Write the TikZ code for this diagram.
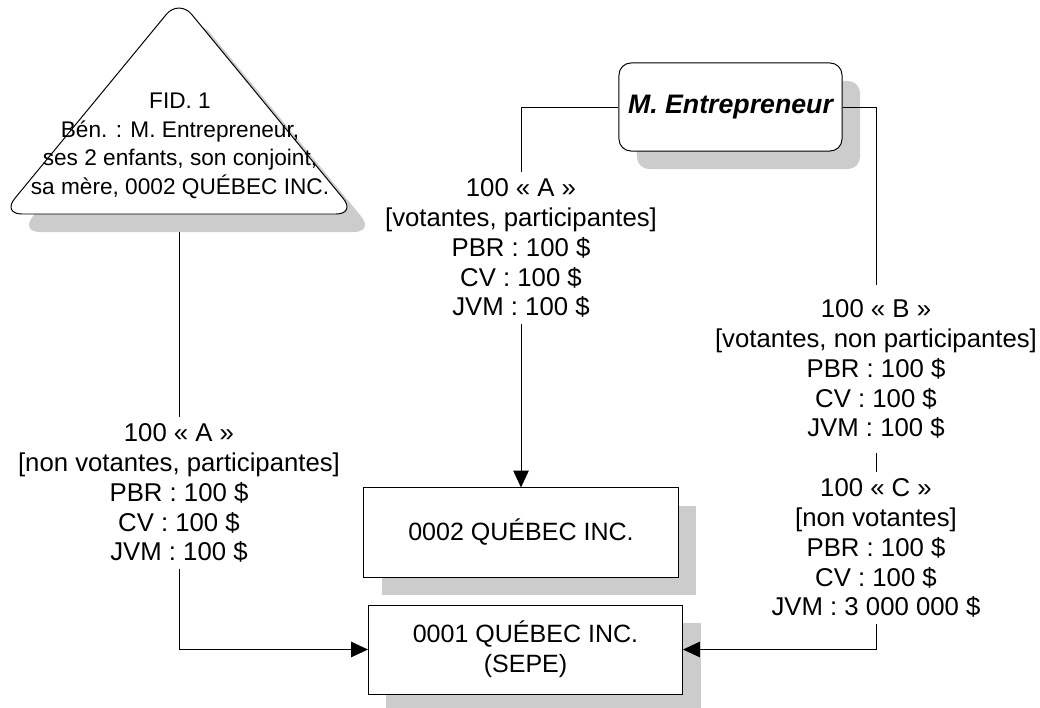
\documentclass[tikz,border=0pt]{standalone}
\usepackage{fontspec}
\setmainfont{Liberation Sans}
\usepackage{tikz}
\usetikzlibrary{arrows.meta, shadows, positioning}
\newcommand{\sharefont}{\fontsize{18.3}{21.3}\selectfont}
\newcommand{\corpfont}{\fontsize{17.8}{21.3}\selectfont}
\newcommand{\persfont}{\fontsize{19}{22}\selectfont\bfseries\itshape}
\newcommand{\trustfont}{\fontsize{16.1}{20.4}\selectfont}
\tikzstyle{shadowed} = [drop shadow={shadow xshift=0.45cm, shadow yshift=-0.45cm, opacity=1, fill=black!20}]
\tikzstyle{company} = [draw, fill=white, rectangle, shadowed, text centered, align=center, minimum width=7.85cm, minimum height=2.225cm, font=\corpfont]
\tikzstyle{person} = [draw, fill=white, rectangle, rounded corners=0.3cm, shadowed, minimum width=5.575cm, minimum height=2.2cm, font=\persfont]
\tikzstyle{trustshape} = [draw, fill=white, shadowed, rounded corners=0.5cm, line width=0.7pt]
\tikzstyle{trusttext} = [align=center, inner sep=0pt, font=\trustfont]
\tikzstyle{sharelabel} = [align=center, inner sep=4pt, font=\sharefont]
\tikzstyle{ownline} = [line width=0.7pt]
\tikzstyle{ownarrow} = [ownline, -{Triangle[length=12pt,width=11pt]}]

\begin{document}
\begin{tikzpicture}[x=0.025cm, y=-0.025cm, every node/.style={line width=0.7pt}]
		\useasboundingbox (0,0) rectangle (1040,708);
		% fiducie
		\path [trustshape] (179,-1) -- (2,214) -- (356,214) -- cycle;
		\node (fid) [trusttext] at (180,146) {FID. 1\\Bén. : M. Entrepreneur,\\ses 2 enfants, son conjoint,\\sa mère, 0002 QUÉBEC INC.};
		\coordinate (fidfoot) at (179,232);
		% personnes et societes
		\node (ment) [person] at (730.5,107) {M. Entrepreneur};
		\node (q2) [company] at (521,532.5) {0002 QUÉBEC INC.};
		\node (sepe) [company, below=0.675cm of q2, xshift=0.1125cm] {0001 QUÉBEC INC.\\(SEPE)};
		% actions
		\node (nvA) [sharelabel] at (179,493) {100 « A »\\{[}non votantes, participantes{]}\\PBR : 100 \$\\CV : 100 \$\\JVM : 100 \$};
		\node (votA) [sharelabel] at (521,248) {100 « A »\\{[}votantes, participantes{]}\\PBR : 100 \$\\CV : 100 \$\\JVM : 100 \$};
		\node (votB) [sharelabel, inner ysep=10pt] at (876,369) {100 « B »\\{[}votantes, non participantes{]}\\PBR : 100 \$\\CV : 100 \$\\JVM : 100 \$};
		\node (nvC) [sharelabel] at (876,548) {100 « C »\\{[}non votantes{]}\\PBR : 100 \$\\CV : 100 \$\\JVM : 3 000 000 \$};
		% liens
		\draw [ownline] (fidfoot) -- (nvA.north);
		\draw [ownarrow] (nvA.south) |- (sepe.west);
		\draw [ownline] (ment.west) -| (votA.north);
		\draw [ownarrow] (votA.south) -- (q2.north);
		\draw [ownline] (ment.east) -| (votB.north);
		\draw [ownline] (votB.south) -- (nvC.north);
		\draw [ownarrow] (nvC.south) |- (sepe.east);
	\end{tikzpicture}
\end{document}
